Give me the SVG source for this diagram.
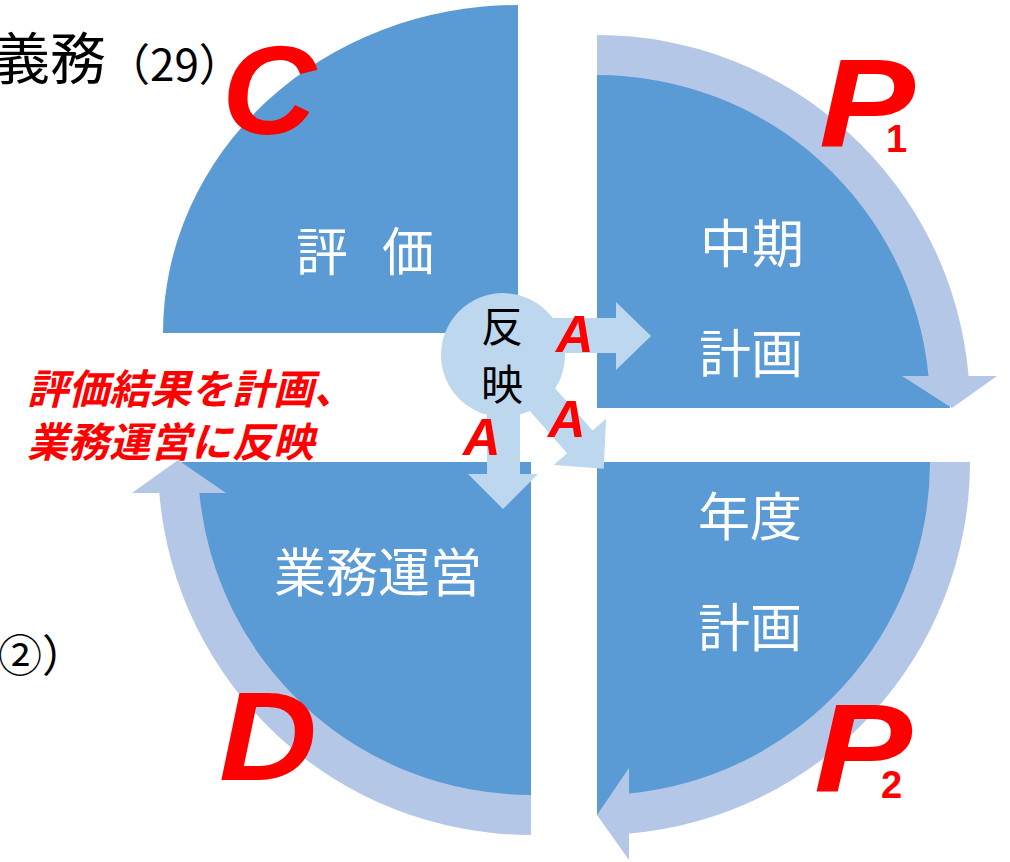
<svg xmlns="http://www.w3.org/2000/svg" width="1010" height="862" viewBox="0 0 1010 862">
<style>
.q{fill:#5B9BD5}
.band{fill:#B4C7E7}
.lt{fill:#BDD7EE}
.wl{fill:#FFFFFF;font-family:"Noto Sans CJK JP","Noto Sans",sans-serif;font-size:52px;text-anchor:middle}
.bk{fill:#000000;font-family:"Noto Sans CJK JP","Noto Sans",sans-serif}
.big{fill:#FF0000;font-family:"Liberation Sans",Arial,sans-serif;font-weight:700;font-style:italic;font-size:127px}
.sub{fill:#FF0000;font-family:"Liberation Sans",Arial,sans-serif;font-weight:700;font-size:38px}
.a{fill:#FF0000;font-family:"Liberation Sans",Arial,sans-serif;font-weight:700;font-style:italic;font-size:52px}
.rt{fill:#FF0000;font-family:"Noto Sans CJK JP",sans-serif;font-weight:700;font-style:italic;font-size:41px}
</style>
<rect x="0" y="0" width="1010" height="862" fill="#FFFFFF"/>
<g id="node-eval">
<path class="q" d="M518,333 L163,333 A355 328 0 0 1 518,5 Z"/>
<text class="wl" x="322" y="271">評</text>
<text class="wl" x="408" y="271">価</text>
</g>
<g id="node-midterm">
<path class="q" d="M597,408 L597,55 A353 353 0 0 1 950,408 Z"/>
<text class="wl" x="752" y="263">中期</text>
<text class="wl" x="751" y="373">計画</text>
</g>
<g id="node-annual">
<path class="q" d="M597,462 L950,462 A353 353 0 0 1 597,815 Z"/>
<text class="wl" x="750" y="536">年度</text>
<text class="wl" x="750" y="647">計画</text>
</g>
<g id="node-ops">
<path class="q" d="M531,462 L531,815 A353 353 0 0 1 178,462 Z"/>
<text class="wl" x="378" y="592">業務運営</text>
</g>
<g id="connectors">
<path class="band" d="M597,35 A373 373 0 0 1 968.6,376 L997,376 L952,408 L902,376 L928.5,376 A333 333 0 0 0 597,75 Z"/>
<path class="band" d="M970,462 A373 373 0 0 1 629,833.6 L629,860 L597,815 L629,768 L629,793.5 A333 333 0 0 0 930,462 Z"/>
<path class="band" d="M531,835 A373 373 0 0 1 159.3,493 L132,493 L178,460 L226,493 L199.4,493 A333 333 0 0 0 531,795 Z"/>
<polygon class="lt" points="545,318 616,318 616,302 651,336 616,370 616,353 545,353"/>
<polygon class="lt" points="487,400 520,400 520,474 538,474 503,509 468,474 487,474"/>
<polygon class="lt" transform="translate(503,355) rotate(48.5)" points="40,-17 116,-17 116,-35 152,0 116,35 116,17 40,17"/>
</g>
<g id="node-reflect">
<circle class="lt" cx="503" cy="355" r="62"/>
<text class="bk" x="502" y="342" font-size="42" text-anchor="middle">反</text>
<text class="bk" x="502" y="400" font-size="42" text-anchor="middle">映</text>
</g>
<g id="labels">
<text class="bk" x="-6" y="79" font-size="56">義務<tspan font-size="44" dy="2">（29）</tspan></text>
<text class="bk" x="-2" y="672" font-size="44">②）</text>
<text class="rt" x="27" y="404">評価結果を計画、</text>
<text class="rt" x="27" y="457">業務運営に反映</text>
<text class="big" x="222" y="134" textLength="94" lengthAdjust="spacingAndGlyphs">C</text>
<text class="big" x="819" y="147" textLength="96" lengthAdjust="spacingAndGlyphs">P</text>
<text class="sub" x="886" y="152">1</text>
<text class="big" x="814" y="792" textLength="98" lengthAdjust="spacingAndGlyphs">P</text>
<text class="sub" x="881" y="798">2</text>
<text class="big" x="219" y="780" textLength="98" lengthAdjust="spacingAndGlyphs">D</text>
<text class="a" x="556" y="352">A</text>
<text class="a" x="548" y="437">A</text>
<text class="a" x="463" y="455">A</text>
</g>
</svg>
